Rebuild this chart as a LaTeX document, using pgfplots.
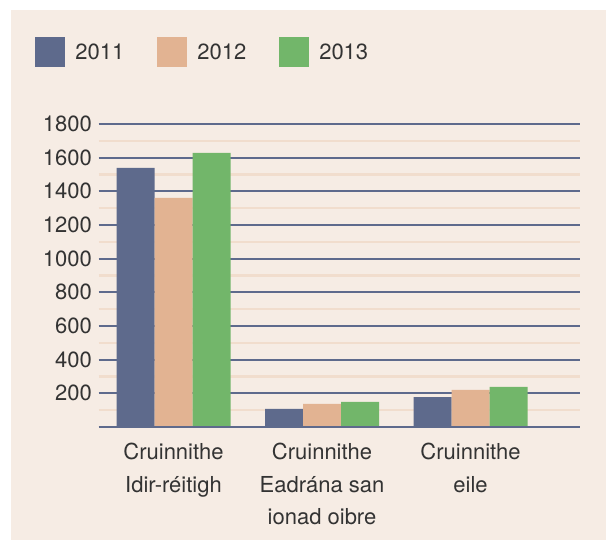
\documentclass[border=0pt]{standalone}
\usepackage{fontspec}
\setmainfont{TeX Gyre Heros}
\usepackage{pgfplots}
\pgfplotsset{compat=1.18}
\definecolor{bgc}{HTML}{F6ECE4}
\definecolor{c11}{HTML}{5E6A8C}
\definecolor{c12}{HTML}{E2B392}
\definecolor{c13}{HTML}{72B66A}
\definecolor{minorg}{HTML}{F1DDCD}
\definecolor{txt}{HTML}{333333}
\begin{document}
\begin{tikzpicture}[x=1bp,y=1bp]
\fill[white] (0,0) rectangle (606,-540);
\fill[bgc] (11,-10) rectangle (606,-540);
\begin{axis}[
  at={(98.5bp,-427bp)}, anchor=south west,
  scale only axis, width=481.5bp, height=303bp,
  xmin=-0.505, xmax=2.737, ymin=0, ymax=1800,
  axis line style={draw=none},
  ybar=0pt, bar width=38bp,
  xtick=\empty,
  ytick={200,400,...,1800},
  minor ytick={100,300,...,1700},
  major tick length=0pt, minor tick length=0pt,
  ymajorgrids, yminorgrids,
  major grid style={c11, line width=2.2bp},
  minor grid style={minorg, line width=2.2bp},
  /pgf/number format/assume math mode=true,
  /pgf/number format/1000 sep={},
  yticklabel style={font=\fontsize{22bp}{26bp}\selectfont, text=txt, inner sep=0pt, xshift=-6.5bp},
  legend style={draw=none, fill=none, inner sep=0pt, outer sep=0pt,
    at={(-0.131,1.2376)}, anchor=west, legend columns=3,
    font=\fontsize{22bp}{26bp}\selectfont, text=txt,
    nodes={inner sep=0pt},
    /tikz/every odd column/.append style={column sep=10bp},
    /tikz/every even column/.append style={column sep=33bp}},
  legend image code/.code={\fill[#1] (0bp,-15bp) rectangle (30bp,15bp);},
  clip=false,
]
\addplot[fill=c11, draw=none] coordinates {(0,1539) (1,107) (2,178)};
\addplot[fill=c12, draw=none] coordinates {(0,1361) (1,137) (2,220)};
\addplot[fill=c13, draw=none] coordinates {(0,1628) (1,149) (2,238)};
\legend{2011,2012,2013}
\draw[c11, line width=2.2bp] (rel axis cs:0,0) -- (rel axis cs:1,0);
\node[anchor=north, align=center, inner sep=0pt, text=txt, font=\fontsize{22bp}{32.5bp}\selectfont] at ([yshift=-16bp]axis cs:0,0) {Cruinnithe\\Idir-réitigh};
\node[anchor=north, align=center, inner sep=0pt, text=txt, font=\fontsize{22bp}{32.5bp}\selectfont] at ([yshift=-16bp]axis cs:1,0) {Cruinnithe\\Eadrána san\\ionad oibre};
\node[anchor=north, align=center, inner sep=0pt, text=txt, font=\fontsize{22bp}{32.5bp}\selectfont] at ([yshift=-16bp]axis cs:2,0) {Cruinnithe\\eile};
\end{axis}
\pgfresetboundingbox
\useasboundingbox (0,0) rectangle (606,-540);
\end{tikzpicture}
\end{document}
